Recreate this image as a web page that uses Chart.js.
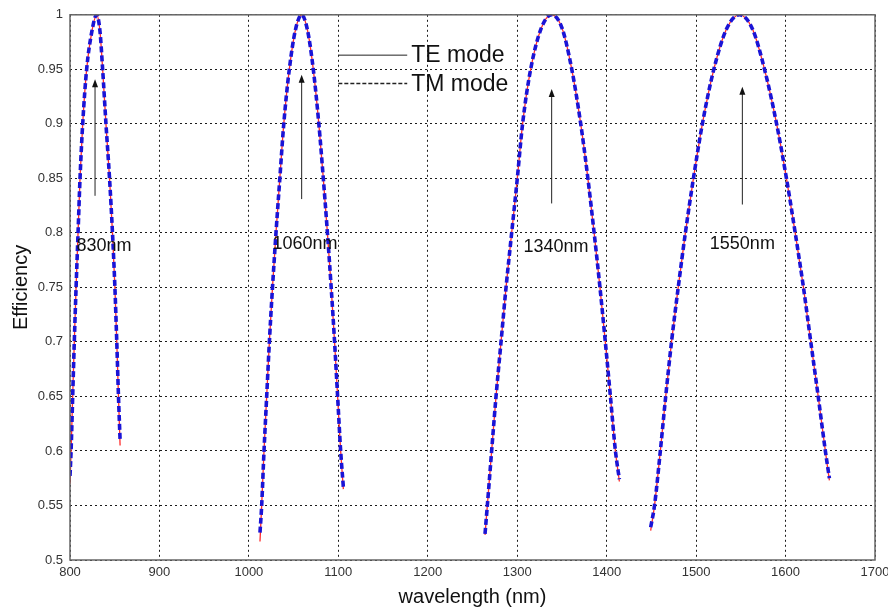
<!DOCTYPE html>
<html>
<head>
<meta charset="utf-8">
<script src="https://cdn.jsdelivr.net/npm/chart.js@4.4.0/dist/chart.umd.min.js"></script>
<style>
  html, body { margin: 0; padding: 0; background: #fff; }
  canvas { display: block; }
</style>
</head>
<body>
<canvas id="effChart" width="888" height="611"></canvas>
<script>
// axis ticks
const xTicks = [800, 900, 1000, 1100, 1200, 1300, 1400, 1500, 1600, 1700];
const yTicks = [0.5, 0.55, 0.6, 0.65, 0.7, 0.75, 0.8, 0.85, 0.9, 0.95, 1];
const yTickLabels = ['0.5', '0.55', '0.6', '0.65', '0.7', '0.75', '0.8', '0.85', '0.9', '0.95', '1'];

// peak around 830 nm
const wl830 = [800, 801.2, 803, 804.8, 806.8, 809, 811.2, 814.2, 818.6, 824.5, 829.8, 833.5, 836.5, 840.2, 844.2, 847.5, 850.2, 852.3, 854.2, 856];
const te830 = [0.57, 0.6, 0.65, 0.7, 0.75, 0.8, 0.85, 0.9, 0.95, 0.985, 1.0, 0.985, 0.95, 0.9, 0.85, 0.8, 0.75, 0.7, 0.65, 0.605];
const tm830 = [0.577, 0.6, 0.65, 0.7, 0.75, 0.8, 0.85, 0.9, 0.95, 0.985, 1.0, 0.985, 0.95, 0.9, 0.85, 0.8, 0.75, 0.7, 0.65, 0.61];

// peak around 1060 nm
const wl1060 = [1012.4, 1014.3, 1016.9, 1019.9, 1022.9, 1026.4, 1030.3, 1034.6, 1039, 1045.2, 1052, 1059, 1065.5, 1072, 1078.2, 1083.2, 1087.8, 1092, 1095.8, 1099.2, 1102.6, 1105.6];
const te1060 = [0.517, 0.55, 0.6, 0.65, 0.7, 0.75, 0.8, 0.85, 0.9, 0.95, 0.986, 1.0, 0.986, 0.95, 0.9, 0.85, 0.8, 0.75, 0.7, 0.65, 0.6, 0.565];
const tm1060 = [0.525, 0.55, 0.6, 0.65, 0.7, 0.75, 0.8, 0.85, 0.9, 0.95, 0.986, 1.0, 0.986, 0.95, 0.9, 0.85, 0.8, 0.75, 0.7, 0.65, 0.6, 0.567];

// peak around 1340 nm
const wl1340 = [1264, 1266.6, 1271.4, 1276.3, 1281.9, 1287.5, 1293.8, 1300.1, 1306, 1315, 1327, 1338.5, 1350, 1361, 1371, 1379, 1386, 1392.5, 1398.5, 1404.2, 1409.8, 1414.2];
const te1340 = [0.523, 0.55, 0.6, 0.65, 0.7, 0.75, 0.8, 0.85, 0.9, 0.95, 0.988, 1.0, 0.988, 0.95, 0.9, 0.85, 0.8, 0.75, 0.7, 0.65, 0.6, 0.572];
const tm1340 = [0.524, 0.55, 0.6, 0.65, 0.7, 0.75, 0.8, 0.85, 0.9, 0.95, 0.988, 1.0, 0.988, 0.95, 0.9, 0.85, 0.8, 0.75, 0.7, 0.65, 0.6, 0.574];

// peak around 1550 nm
const wl1550 = [1449.2, 1453.5, 1460, 1466, 1472.5, 1480, 1488, 1497, 1507, 1519.8, 1534, 1548.5, 1563, 1576.5, 1590, 1601, 1610.8, 1620, 1628.2, 1636.5, 1644.5, 1649];
const te1550 = [0.527, 0.55, 0.6, 0.65, 0.7, 0.75, 0.8, 0.85, 0.9, 0.95, 0.987, 1.0, 0.987, 0.95, 0.9, 0.85, 0.8, 0.75, 0.7, 0.65, 0.6, 0.573];
const tm1550 = [0.53, 0.55, 0.6, 0.65, 0.7, 0.75, 0.8, 0.85, 0.9, 0.95, 0.987, 1.0, 0.987, 0.95, 0.9, 0.85, 0.8, 0.75, 0.7, 0.65, 0.6, 0.575];

// peak labels and arrows
const peakLabels = ['830nm', '1060nm', '1340nm', '1550nm'];
const labelX = [838, 1062.7, 1343.4, 1551.7];
const labelY = [0.788, 0.79, 0.787, 0.79];
const arrowX = [828, 1059, 1338.5, 1551.7];
const arrowFrom = [0.834, 0.831, 0.827, 0.826];
const arrowTo = [0.941, 0.945, 0.932, 0.934];

const toPts = (xs, ys) => xs.map((v, i) => ({ x: v, y: ys[i] }));

const teStyle = {
    borderColor: '#ff2b2b',
    borderWidth: 1.3,
    pointRadius: 0,
    cubicInterpolationMode: 'monotone',
    order: 2
};
const tmStyle = {
    borderColor: '#1a14d6',
    borderWidth: 3.6,
    borderDash: [6, 3],
    pointRadius: 0,
    cubicInterpolationMode: 'monotone',
    order: 1
};

const datasets = [];
[[wl830, te830, tm830], [wl1060, te1060, tm1060], [wl1340, te1340, tm1340], [wl1550, te1550, tm1550]]
    .forEach(([wl, te, tm]) => {
        datasets.push(Object.assign({ label: 'TE mode', data: toPts(wl, te) }, teStyle));
        datasets.push(Object.assign({ label: 'TM mode', data: toPts(wl, tm) }, tmStyle));
    });

// box, legend, arrows and peak labels
const extras = {
    id: 'extras',
    afterDatasetsDraw(chart) {
        const { ctx, chartArea: a, scales: { x, y } } = chart;
        ctx.save();

        ctx.strokeStyle = '#666';
        ctx.lineWidth = 1.5;
        ctx.strokeRect(a.left, a.top, a.right - a.left, a.bottom - a.top);

        // legend
        const lx1 = x.getPixelForValue(1100), lx2 = x.getPixelForValue(1177);
        const ly1 = y.getPixelForValue(0.963), ly2 = y.getPixelForValue(0.937);
        ctx.strokeStyle = '#222';
        ctx.lineWidth = 1;
        ctx.beginPath(); ctx.moveTo(lx1, ly1); ctx.lineTo(lx2, ly1); ctx.stroke();
        ctx.setLineDash([4, 2]);
        ctx.lineWidth = 1.6;
        ctx.beginPath(); ctx.moveTo(lx1, ly2); ctx.lineTo(lx2, ly2); ctx.stroke();
        ctx.setLineDash([]);
        ctx.fillStyle = '#111';
        ctx.font = '23px "Liberation Sans", Arial, sans-serif';
        ctx.textAlign = 'left';
        ctx.textBaseline = 'middle';
        ctx.fillText('TE mode', lx2 + 4, ly1 + 1);
        ctx.fillText('TM mode', lx2 + 4, ly2 + 1);

        // arrows
        ctx.strokeStyle = '#222';
        ctx.fillStyle = '#111';
        ctx.lineWidth = 1;
        arrowX.forEach((ax, i) => {
            const px = x.getPixelForValue(ax);
            const y0 = y.getPixelForValue(arrowFrom[i]);
            const y1 = y.getPixelForValue(arrowTo[i]);
            ctx.beginPath(); ctx.moveTo(px, y0); ctx.lineTo(px, y1 + 6); ctx.stroke();
            ctx.beginPath();
            ctx.moveTo(px, y1);
            ctx.lineTo(px - 3, y1 + 8);
            ctx.lineTo(px + 3, y1 + 8);
            ctx.closePath();
            ctx.fill();
        });

        // labels
        ctx.font = '18px "Liberation Sans", Arial, sans-serif';
        ctx.textAlign = 'center';
        peakLabels.forEach((t, i) => {
            ctx.fillText(t, x.getPixelForValue(labelX[i]), y.getPixelForValue(labelY[i]));
        });
        ctx.restore();
    }
};

const gridStyle = { color: '#1a1a1a', lineWidth: 1, drawTicks: false };
const tickFont = { family: '"Liberation Sans", Arial, sans-serif', size: 13 };
const titleFont = { family: '"Liberation Sans", Arial, sans-serif', size: 20 };

new Chart(document.getElementById('effChart'), {
    type: 'line',
    data: { datasets },
    plugins: [extras],
    options: {
        responsive: false,
        animation: false,
        layout: { padding: { top: 13, right: 13, left: 0, bottom: 0 } },
        plugins: { legend: { display: false }, tooltip: { enabled: false } },
        scales: {
            x: {
                type: 'linear',
                min: 800,
                max: 1700,
                afterBuildTicks: s => { s.ticks = xTicks.map(v => ({ value: v })); },
                afterFit: s => { s.height = 51; s.paddingRight = 0; },
                grid: gridStyle,
                border: { display: false, dash: [2, 3] },
                ticks: {
                    color: '#333', font: tickFont, padding: 5, maxRotation: 0, autoSkip: false,
                    callback: (v, i) => String(xTicks[i])
                },
                title: { display: true, text: 'wavelength (nm)', color: '#111', font: titleFont, padding: { top: 0, bottom: 2 } }
            },
            y: {
                min: 0.5,
                max: 1,
                afterBuildTicks: s => { s.ticks = yTicks.map(v => ({ value: v })); },
                afterFit: s => { s.width = 70; },
                grid: gridStyle,
                border: { display: false, dash: [2, 3] },
                ticks: {
                    color: '#333', font: tickFont, padding: 7, autoSkip: false,
                    callback: (v, i) => yTickLabels[i]
                },
                title: { display: true, text: 'Efficiency', color: '#111', font: titleFont, padding: { top: 9, bottom: 0 } }
            }
        }
    }
});
</script>
</body>
</html>
